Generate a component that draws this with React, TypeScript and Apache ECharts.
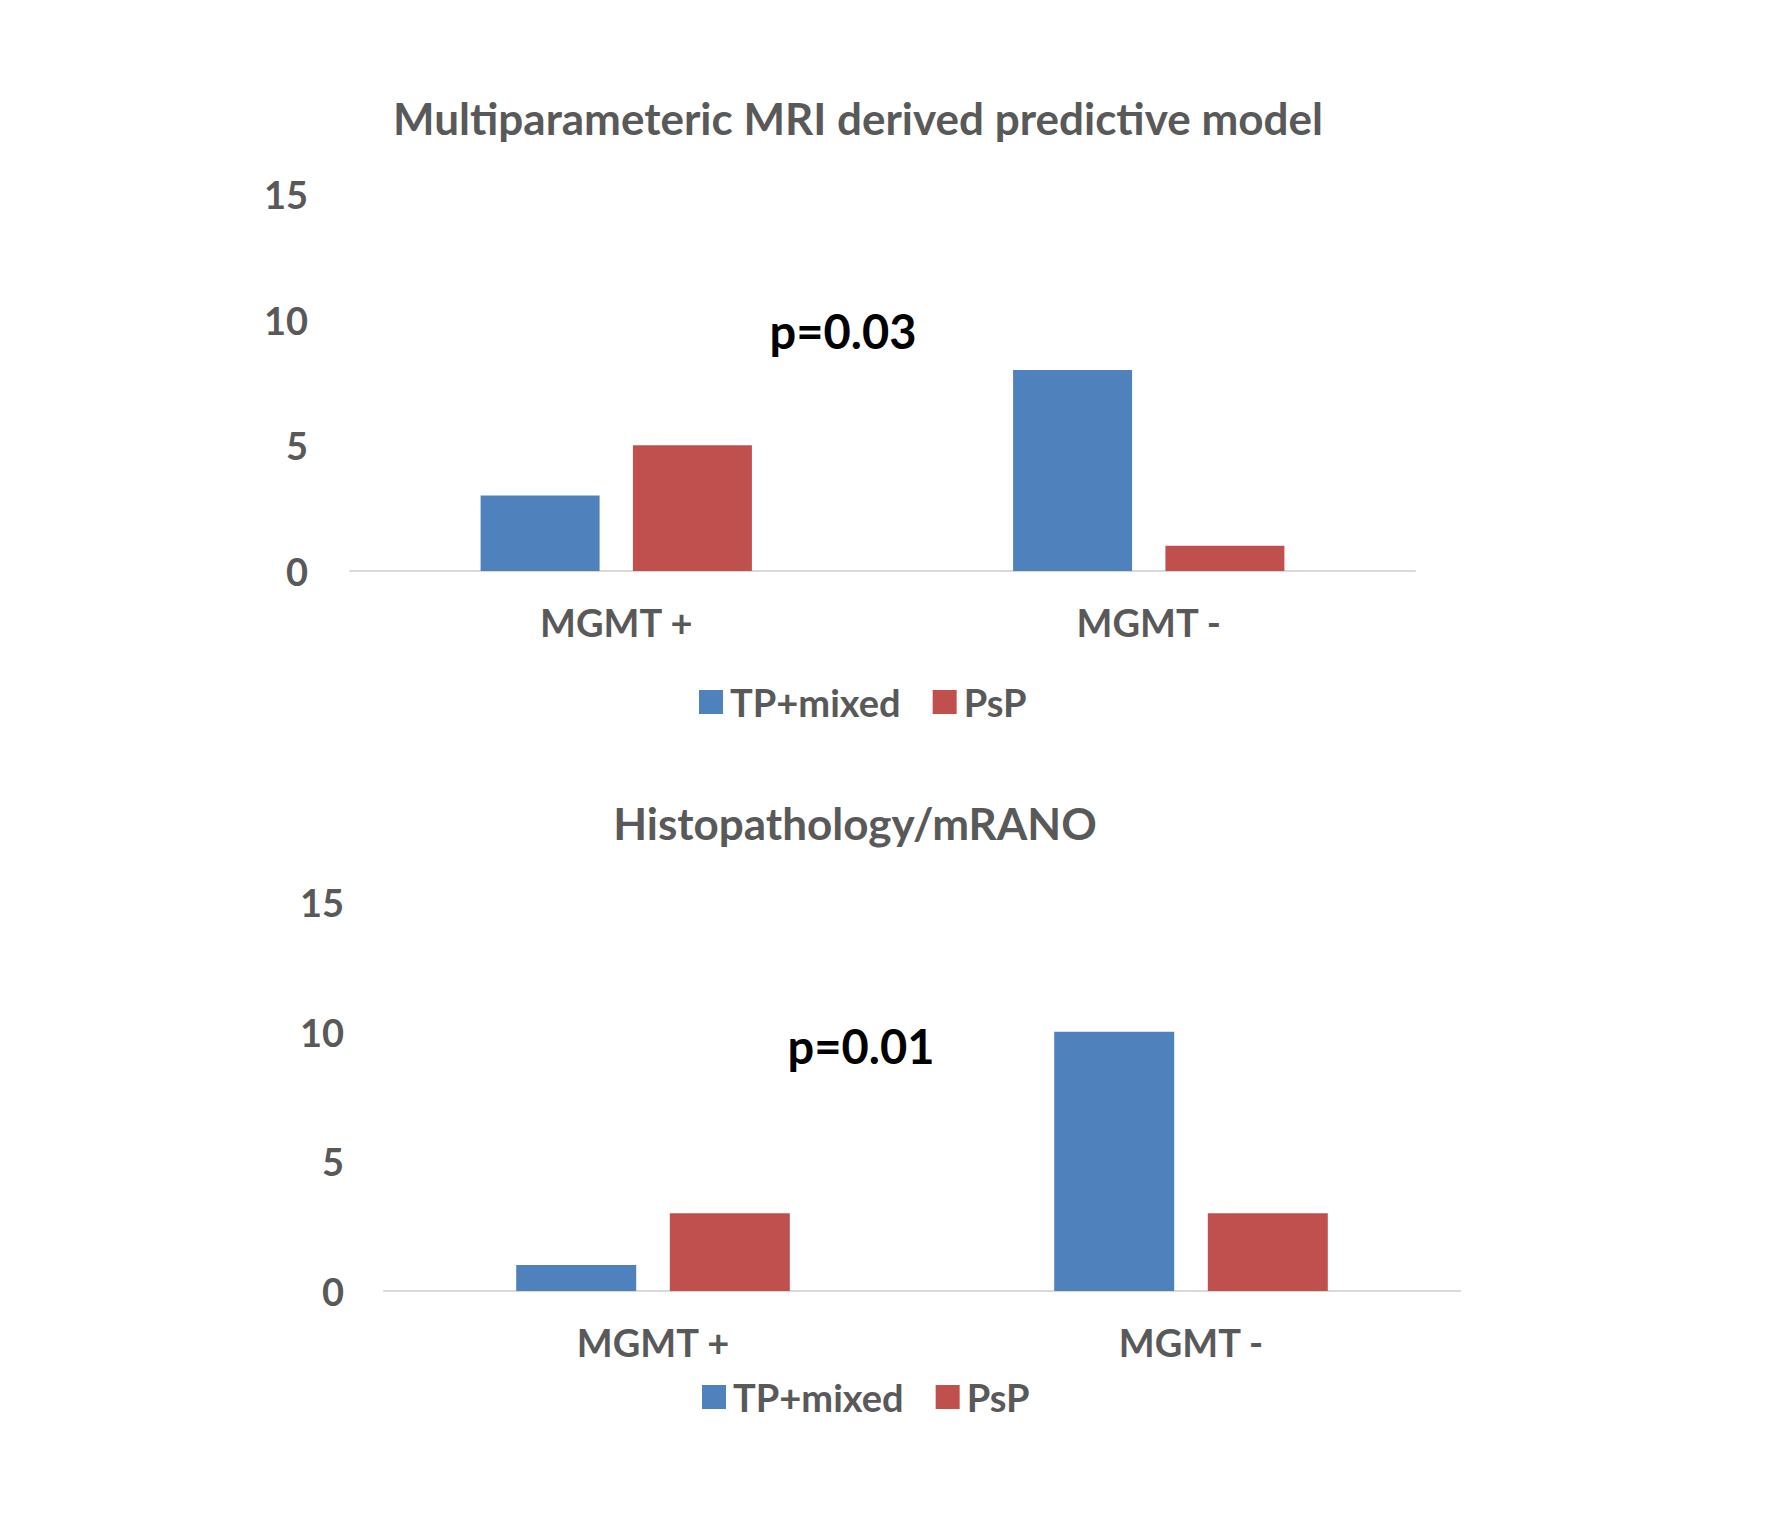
import React, { useEffect, useRef } from "react";
import * as echarts from "echarts";

const categories = ["MGMT +", "MGMT -"];
const seriesNames = ["TP+mixed", "PsP"];
const mriTP = [3, 8];
const mriPsP = [5, 1];
const histTP = [1, 10];
const histPsP = [3, 3];
const yMin = 0;
const yMax = 15;
const yStep = 5;
const titles = ["Multiparameteric MRI derived predictive model", "Histopathology/mRANO"];
const pValues = ["p=0.03", "p=0.01"];

const BLUE = "#4F81BD";
const RED = "#C0504D";
const GRAY = "#595959";
const FONT = "Lato";

export default function App() {
  const ref = useRef<HTMLDivElement>(null);
  useEffect(() => {
    if (!ref.current) return;
    const chart = echarts.init(ref.current, null, { renderer: "svg" });
    const axisLabel = { color: GRAY, fontFamily: FONT, fontWeight: "bold" as const, fontSize: 38 };
    const yAxisBase = {
      type: "value" as const,
      min: yMin,
      max: yMax,
      interval: yStep,
      splitLine: { show: false },
      axisLine: { show: false },
      axisTick: { show: false },
    };
    const xAxisBase = {
      type: "category" as const,
      data: categories,
      axisTick: { show: false },
      axisLine: { show: true, lineStyle: { color: "#D9D9D9", width: 2 } },
    };
    const barBase = (color: string) => ({
      type: "bar" as const,
      barWidth: 119,
      barGap: "28%",
      itemStyle: { color },
    });
    const legendBase = {
      data: seriesNames,
      icon: "rect",
      itemWidth: 24,
      itemHeight: 24,
      itemGap: 32,
      textStyle: { color: GRAY, fontFamily: FONT, fontWeight: "bold" as const, fontSize: 38, padding: [0, 0, 0, 2] },
    };
    const textStyle = (size: number, color: string) => ({
      fill: color,
      font: `bold ${size}px ${FONT}`,
      textAlign: "center" as const,
      textVerticalAlign: "middle" as const,
    });
    chart.setOption({
      animation: false,
      backgroundColor: "#ffffff",
      grid: [
        { left: 350, right: 353, top: 194, height: 377 },
        { left: 384, right: 308, top: 902, height: 389 },
      ],
      xAxis: [
        { ...xAxisBase, gridIndex: 0, axisLabel: { ...axisLabel, margin: 32 } },
        { ...xAxisBase, gridIndex: 1, axisLabel: { ...axisLabel, margin: 32 } },
      ],
      yAxis: [
        { ...yAxisBase, gridIndex: 0, axisLabel: { ...axisLabel, margin: 42 } },
        { ...yAxisBase, gridIndex: 1, axisLabel: { ...axisLabel, margin: 40 } },
      ],
      legend: [
        { ...legendBase, left: 694, top: 678 },
        { ...legendBase, left: 697, top: 1373 },
      ],
      series: [
        { ...barBase(BLUE), name: seriesNames[0], xAxisIndex: 0, yAxisIndex: 0, data: mriTP },
        { ...barBase(RED), name: seriesNames[1], xAxisIndex: 0, yAxisIndex: 0, data: mriPsP },
        { ...barBase(BLUE), name: seriesNames[0], xAxisIndex: 1, yAxisIndex: 1, data: histTP, barWidth: 120 },
        { ...barBase(RED), name: seriesNames[1], xAxisIndex: 1, yAxisIndex: 1, data: histPsP, barWidth: 120 },
      ],
      graphic: [
        { type: "text", x: 858, y: 118, style: { text: titles[0], ...textStyle(44, GRAY) } },
        { type: "text", x: 855, y: 823, style: { text: titles[1], ...textStyle(44, GRAY) } },
        { type: "text", x: 843, y: 331, style: { text: pValues[0], ...textStyle(47, "#000000") } },
        { type: "text", x: 861, y: 1046, style: { text: pValues[1], ...textStyle(47, "#000000") } },
      ],
    });
    return () => chart.dispose();
  }, []);
  return (
    <div
      ref={ref}
      style={{ position: "absolute", left: 0, top: 0, width: 1768, height: 1538, background: "#fff" }}
    />
  );
}
